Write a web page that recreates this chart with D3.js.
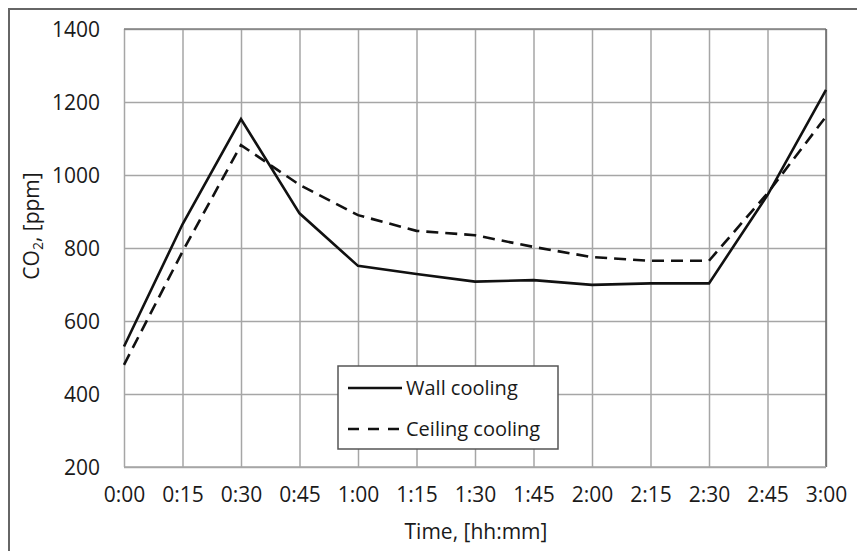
<!DOCTYPE html>
<html>
<head>
<meta charset="utf-8">
<script src="https://cdn.jsdelivr.net/npm/d3@7"></script>
<style>
  body { margin: 0; background: #fff; }
  svg text { font-family: "Open Sans", sans-serif; fill: #1a1a1a; }
</style>
</head>
<body>
<div class="chart"></div>
<script>
// chart values
var timeLabels = ["0:00", "0:15", "0:30", "0:45", "1:00", "1:15", "1:30",
                  "1:45", "2:00", "2:15", "2:30", "2:45", "3:00"];
var wallCooling = [530, 865, 1153, 895, 751, 729, 708, 712, 699, 703, 703, 945, 1233];
var ceilingCooling = [480, 790, 1082, 973, 890, 847, 835, 803, 775, 765, 765, 950, 1160];
var yTicks = [200, 400, 600, 800, 1000, 1200, 1400];
var seriesNames = ["Wall cooling", "Ceiling cooling"];

var svgWidth = 857;
var svgHeight = 551;

var margin = { top: 29, right: 31, bottom: 84, left: 124 };
var width = svgWidth - margin.left - margin.right;
var height = svgHeight - margin.top - margin.bottom;

var svg = d3.select(".chart")
  .append("svg")
  .attr("width", svgWidth)
  .attr("height", svgHeight);

// outer frame (cropped on right and bottom)
svg.append("rect")
  .attr("x", 9)
  .attr("y", 9)
  .attr("width", svgWidth + 20)
  .attr("height", svgHeight + 20)
  .attr("fill", "none")
  .attr("stroke", "#666")
  .attr("stroke-width", 2);

var chartGroup = svg.append("g")
  .attr("transform", `translate(${margin.left}, ${margin.top})`);

// scales
var xScale = d3.scalePoint()
  .domain(timeLabels)
  .range([0, width])
  .padding(0);

var yScale = d3.scaleLinear()
  .domain([200, 1400])
  .range([height, 0]);

// y axis with horizontal grid
var yAxis = chartGroup.append("g")
  .call(d3.axisLeft(yScale)
    .tickValues(yTicks)
    .tickFormat(d3.format("d"))
    .tickSize(-width)
    .tickPadding(24));
yAxis.select(".domain").remove();
yAxis.selectAll("line")
  .attr("stroke", "#a6a6a6")
  .attr("stroke-width", 1.5);
yAxis.selectAll("text")
  .style("font-size", "21px")
  .attr("dy", "0.36em");

// x axis with vertical grid
var xAxis = chartGroup.append("g")
  .attr("transform", `translate(0, ${height})`)
  .call(d3.axisBottom(xScale).tickSize(-height).tickPadding(29));
xAxis.select(".domain").remove();
xAxis.selectAll("line")
  .attr("stroke", "#a6a6a6")
  .attr("stroke-width", 1.5);
xAxis.selectAll("text")
  .style("font-size", "21px")
  .attr("dy", "0.3em");

// plot border: top and right slightly darker
chartGroup.append("line")
  .attr("x1", 0).attr("x2", width)
  .attr("y1", 0).attr("y2", 0)
  .attr("stroke", "#808080")
  .attr("stroke-width", 1.5);
chartGroup.append("line")
  .attr("x1", width).attr("x2", width)
  .attr("y1", 0).attr("y2", height)
  .attr("stroke", "#666")
  .attr("stroke-width", 1.5);
chartGroup.append("line")
  .attr("x1", 0).attr("x2", width)
  .attr("y1", height).attr("y2", height)
  .attr("stroke", "#a6a6a6")
  .attr("stroke-width", 1.5);

// lines
var line = d3.line()
  .x((d, i) => xScale(timeLabels[i]))
  .y(d => yScale(d));

chartGroup.append("path")
  .datum(ceilingCooling)
  .attr("d", line)
  .attr("fill", "none")
  .attr("stroke", "#111")
  .attr("stroke-width", 2.6)
  .attr("stroke-dasharray", "12,7");

chartGroup.append("path")
  .datum(wallCooling)
  .attr("d", line)
  .attr("fill", "none")
  .attr("stroke", "#111")
  .attr("stroke-width", 2.6)
  .attr("stroke-linejoin", "miter");

// axis titles
svg.append("text")
  .attr("x", 476)
  .attr("y", 539)
  .attr("text-anchor", "middle")
  .style("font-size", "21px")
  .text("Time, [hh:mm]");

var yTitle = svg.append("text")
  .attr("transform", "translate(39, 226) rotate(-90)")
  .attr("text-anchor", "middle")
  .style("font-size", "21px");
yTitle.append("tspan").text("CO");
yTitle.append("tspan").style("font-size", "14px").attr("dy", "4").text("2");
yTitle.append("tspan").attr("dy", "-4").text(", [ppm]");

// legend
var legend = svg.append("g")
  .attr("transform", "translate(338, 366)");

legend.append("rect")
  .attr("width", 220)
  .attr("height", 83)
  .attr("fill", "#fff")
  .attr("stroke", "#555")
  .attr("stroke-width", 1.5);

var legendItems = legend.selectAll(".item")
  .data(seriesNames)
  .enter()
  .append("g")
  .attr("class", "item")
  .attr("transform", (d, i) => `translate(0, ${22 + i * 41})`);

legendItems.append("line")
  .attr("x1", 10)
  .attr("x2", 64)
  .attr("y1", 0)
  .attr("y2", 0)
  .attr("stroke", "#111")
  .attr("stroke-width", 2.6)
  .attr("stroke-dasharray", (d, i) => i === 1 ? "11,9" : null);

legendItems.append("text")
  .attr("x", 68)
  .attr("y", 0)
  .attr("dy", "0.36em")
  .style("font-size", "20px")
  .text(d => d);
</script>
</body>
</html>
